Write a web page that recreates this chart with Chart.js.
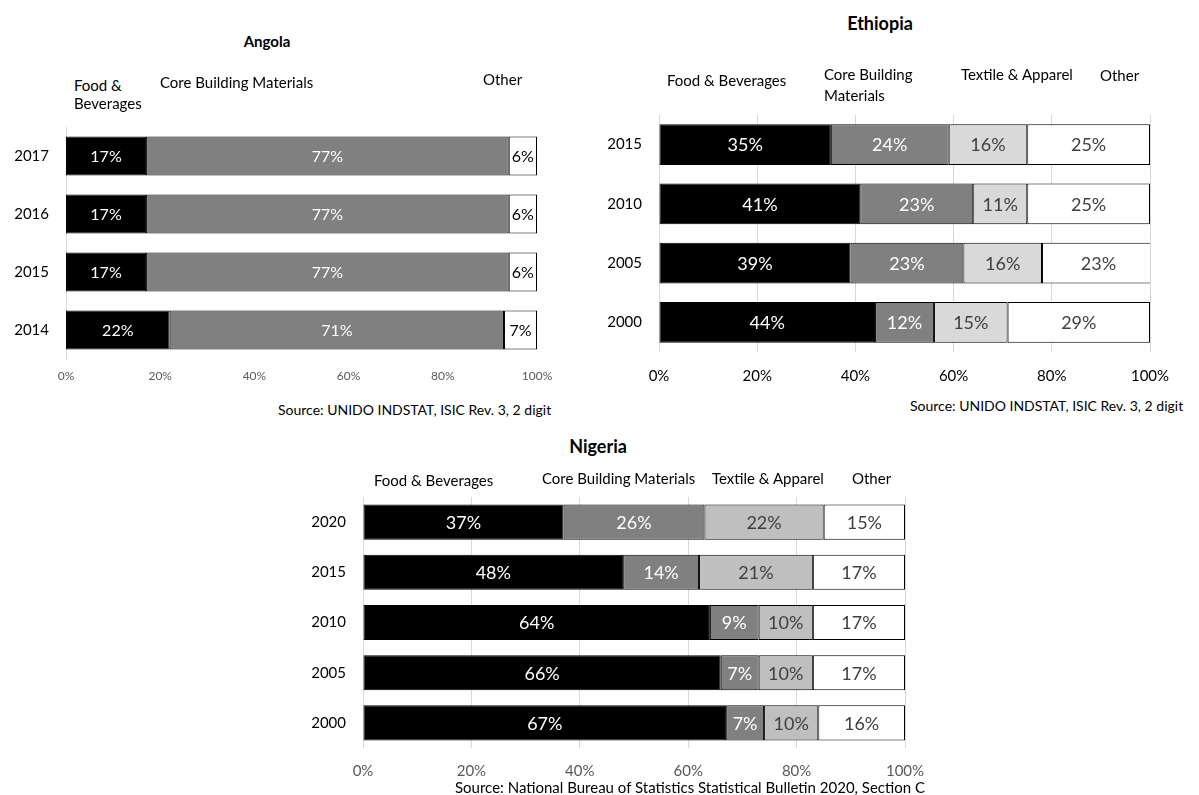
<!DOCTYPE html>
<html>
<head>
<meta charset="utf-8">
<script src="https://cdn.jsdelivr.net/npm/chart.js@4.4.1/dist/chart.umd.min.js"></script>
<style>
  body { margin: 0; background: #fff; font-family: Lato, sans-serif; }
  #page { position: relative; width: 1199px; height: 795px; overflow: hidden; }
  canvas { position: absolute; }
  .t { position: absolute; white-space: nowrap; line-height: 1; color: #000; font-size: 15px; }
  .title { font-weight: bold; transform: translateX(-50%); }
  .src { font-size: 14px; }
</style>
</head>
<body>
<div id="page">
  <canvas id="angola" width="560" height="300" style="left:0;top:100px"></canvas>
  <canvas id="ethiopia" width="609" height="290" style="left:590px;top:100px"></canvas>
  <canvas id="nigeria" width="650" height="300" style="left:290px;top:480px"></canvas>

  <div class="t title" style="left:267px;top:34px;font-size:15px">Angola</div>
  <div class="t" style="left:74px;top:78px">Food &amp;</div>
  <div class="t" style="left:74px;top:96px">Beverages</div>
  <div class="t" style="left:160px;top:75px">Core Building Materials</div>
  <div class="t" style="left:483px;top:72px">Other</div>
  <div class="t src" style="left:278px;top:403px">Source: UNIDO INDSTAT, ISIC Rev. 3, 2 digit</div>

  <div class="t title" style="left:880px;top:14px;font-size:18px">Ethiopia</div>
  <div class="t" style="left:667px;top:73px">Food &amp; Beverages</div>
  <div class="t" style="left:824px;top:67px">Core Building</div>
  <div class="t" style="left:824px;top:88px">Materials</div>
  <div class="t" style="left:961px;top:67px">Textile &amp; Apparel</div>
  <div class="t" style="left:1100px;top:68px">Other</div>
  <div class="t src" style="left:910px;top:399px">Source: UNIDO INDSTAT, ISIC Rev. 3, 2 digit</div>

  <div class="t title" style="left:598px;top:437px;font-size:18px">Nigeria</div>
  <div class="t" style="left:374px;top:473px">Food &amp; Beverages</div>
  <div class="t" style="left:542px;top:471px">Core Building Materials</div>
  <div class="t" style="left:712px;top:471px">Textile &amp; Apparel</div>
  <div class="t" style="left:852px;top:471px">Other</div>
  <div class="t src" style="left:455px;top:780px;font-size:15px">Source: National Bureau of Statistics Statistical Bulletin 2020, Section C</div>
</div>

<script>
// Angola
const angolaYears = ['2017', '2016', '2015', '2014'];
const angolaFood = [17, 17, 17, 22];
const angolaBuilding = [77, 77, 77, 71];
const angolaOther = [6, 6, 6, 7];

// Ethiopia
const ethiopiaYears = ['2015', '2010', '2005', '2000'];
const ethiopiaFood = [35, 41, 39, 44];
const ethiopiaBuilding = [24, 23, 23, 12];
const ethiopiaTextile = [16, 11, 16, 15];
const ethiopiaOther = [25, 25, 23, 29];

// Nigeria
const nigeriaYears = ['2020', '2015', '2010', '2005', '2000'];
const nigeriaFood = [37, 48, 64, 66, 67];
const nigeriaBuilding = [26, 14, 9, 7, 7];
const nigeriaTextile = [22, 21, 10, 10, 10];
const nigeriaOther = [15, 17, 17, 17, 16];

const pctStep = 20;

// writes the share in the middle of every segment
const segLabels = {
    id: 'segLabels',
    afterDatasetsDraw(chart, args, opts) {
        const ctx = chart.ctx;
        ctx.save();
        ctx.font = opts.font;
        ctx.textAlign = 'center';
        ctx.textBaseline = 'middle';
        chart.data.datasets.forEach((ds, i) => {
            chart.getDatasetMeta(i).data.forEach((bar, j) => {
                const p = bar.getProps(['x', 'y', 'base'], true);
                ctx.fillStyle = ds.labelColor;
                ctx.fillText(ds.data[j] + '%', (p.x + p.base) / 2, p.y + 1);
            });
        });
        ctx.restore();
    }
};

function seg(label, data, color, labelColor) {
    return { label, data, backgroundColor: color, labelColor, borderColor: '#000', borderWidth: 1, borderSkipped: false };
}

// box = canvas placement on the page, area = wanted plot area on the page
function stackedBars(id, box, area, years, datasets, look) {
    return new Chart(document.getElementById(id), {
        type: 'bar',
        data: { labels: years, datasets },
        plugins: [segLabels],
        options: {
            responsive: false,
            animation: false,
            indexAxis: 'y',
            layout: { padding: { left: 0, top: area.t - box.top, right: box.left + box.w - area.r, bottom: 0 } },
            datasets: { bar: { categoryPercentage: 1, barPercentage: look.barPct } },
            plugins: {
                legend: { display: false },
                tooltip: { enabled: false },
                segLabels: { font: look.labelFont }
            },
            scales: {
                x: {
                    stacked: true, min: 0, max: 100,
                    grid: { display: look.grid, color: '#d9d9d9', drawTicks: false },
                    border: { display: false },
                    ticks: { stepSize: pctStep, padding: look.xPad, color: look.xColor, font: { family: 'Lato', size: look.xSize }, callback: v => v + '%' },
                    afterFit: s => {
                        s.height = box.top + box.h - area.b;
                        s.paddingLeft = 0;
                        s.paddingRight = 0;
                    }
                },
                y: {
                    stacked: true,
                    grid: { display: false, drawTicks: false },
                    border: { display: look.yBorder, color: '#d9d9d9' },
                    ticks: { padding: 17, color: '#000', font: { family: 'Lato', size: 15 } },
                    afterFit: s => {
                        s.width = area.l - box.left;
                        s.paddingTop = 0;
                        s.paddingBottom = 0;
                    }
                }
            }
        }
    });
}

stackedBars('angola', { left: 0, top: 100, w: 560, h: 300 }, { l: 66, t: 127, r: 537, b: 359 }, angolaYears, [
    seg('Food & Beverages', angolaFood, '#000000', '#ffffff'),
    seg('Core Building Materials', angolaBuilding, '#808080', '#ffffff'),
    seg('Other', angolaOther, '#ffffff', '#000000')
], { barPct: 0.675, labelFont: '16px Lato', grid: false, yBorder: true, xPad: 10, xColor: '#595959', xSize: 12 });

stackedBars('ethiopia', { left: 590, top: 100, w: 609, h: 290 }, { l: 659, t: 115, r: 1150, b: 352 }, ethiopiaYears, [
    seg('Food & Beverages', ethiopiaFood, '#000000', '#ffffff'),
    seg('Core Building Materials', ethiopiaBuilding, '#808080', '#ffffff'),
    seg('Textile & Apparel', ethiopiaTextile, '#d9d9d9', '#404040'),
    seg('Other', ethiopiaOther, '#ffffff', '#404040')
], { barPct: 0.69, labelFont: '18px Lato', grid: true, yBorder: false, xPad: 15, xColor: '#000', xSize: 15 });

stackedBars('nigeria', { left: 290, top: 480, w: 650, h: 300 }, { l: 363, t: 497, r: 905, b: 748 }, nigeriaYears, [
    seg('Food & Beverages', nigeriaFood, '#000000', '#ffffff'),
    seg('Core Building Materials', nigeriaBuilding, '#808080', '#ffffff'),
    seg('Textile & Apparel', nigeriaTextile, '#bfbfbf', '#404040'),
    seg('Other', nigeriaOther, '#ffffff', '#404040')
], { barPct: 0.7, labelFont: '18px Lato', grid: true, yBorder: false, xPad: 14, xColor: '#595959', xSize: 15 });
</script>
</body>
</html>
